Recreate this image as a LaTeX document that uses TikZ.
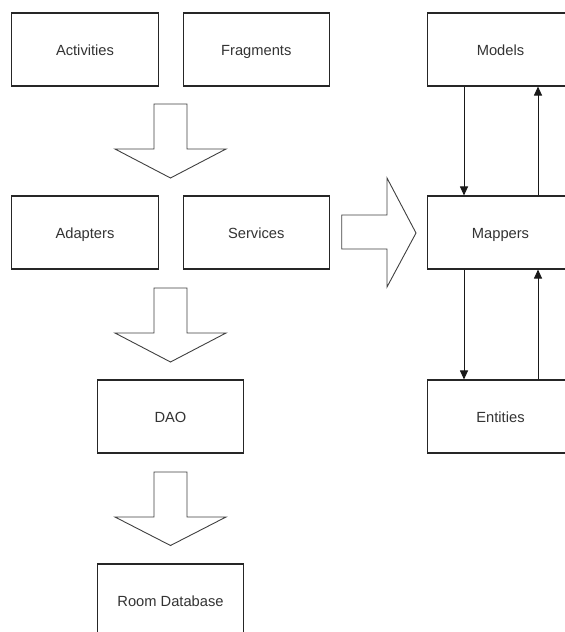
\documentclass[tikz,border=0pt]{standalone}
\usepackage{fontspec}
\setmainfont{Liberation Sans}
\usetikzlibrary{arrows.meta}
\begin{document}
\begin{tikzpicture}[x=1pt,y=-1pt,
  layer/.style={draw=black!85, line width=1.1pt, fill=white, minimum width=146.5pt,
    minimum height=73pt, inner sep=0pt, text height=12pt, text depth=0.5pt,
    font=\fontsize{14.7}{17}\selectfont, text=black!80},
  flow/.style={draw=black!75, line width=0.9pt, fill=white, line join=miter},
  link/.style={draw=black!90, line width=1pt, -{Triangle[length=9pt,width=8pt]}}]
\useasboundingbox (0,0) rectangle (565,632);
\clip (0,0) rectangle (565,632);

% presentation layer
\node[layer] (act) at (85,49.5) {Activities};
\node[layer] (frag) at (256.3,49.5) {Fragments};
\node[layer] (adp) at (85,232.5) {Adapters};
\node[layer] (srv) at (256.3,232.5) {Services};
\node[layer] (dao) at (170.5,416.5) {DAO};
\node[layer] (room) at (170.5,600.5) {Room Database};

% model side
\node[layer] (mod) at (500.5,49.5) {Models};
\node[layer] (map) at (500.5,232.5) {Mappers};
\node[layer] (ent) at (500.5,416.5) {Entities};

% hollow block arrows between layers
\draw[flow] (154,104) -- (187,104) -- (187,149) -- (226,149) -- (170.5,178)
  -- (115,149) -- (154,149) -- cycle;
\draw[flow] (154,288) -- (187,288) -- (187,333) -- (226,333) -- (170.5,362)
  -- (115,333) -- (154,333) -- cycle;
\draw[flow] (154,472) -- (187,472) -- (187,517) -- (226,517) -- (170.5,545.5)
  -- (115,517) -- (154,517) -- cycle;
\draw[flow] (341.7,215) -- (387,215) -- (387,178) -- (416,233) -- (387,287)
  -- (387,249) -- (341.7,249) -- cycle;

% two-way mapping links
\draw[link] (mod.south -| 464,0) -- (map.north -| 464,0);
\draw[link] (map.north -| 538,0) -- (mod.south -| 538,0);
\draw[link] (map.south -| 464,0) -- (ent.north -| 464,0);
\draw[link] (ent.north -| 538,0) -- (map.south -| 538,0);
\end{tikzpicture}
\end{document}
